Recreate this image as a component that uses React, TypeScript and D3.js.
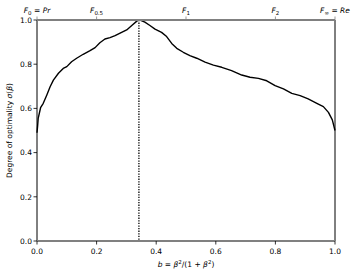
import React from "react";
import * as d3 from "d3";

// degree of optimality curve
const bValues = [0, 0.002, 0.004, 0.012, 0.021, 0.033, 0.044, 0.055, 0.072, 0.088, 0.1, 0.116, 0.133, 0.155, 0.178, 0.195, 0.211, 0.228, 0.245, 0.262, 0.284, 0.301, 0.318, 0.335, 0.342, 0.346, 0.362, 0.379, 0.396, 0.418, 0.435, 0.452, 0.469, 0.491, 0.513, 0.536, 0.564, 0.592, 0.62, 0.653, 0.687, 0.715, 0.743, 0.771, 0.799, 0.827, 0.855, 0.883, 0.91, 0.939, 0.961, 0.978, 0.991, 1.0];
const sigmaValues = [0.49, 0.52, 0.555, 0.603, 0.623, 0.661, 0.698, 0.728, 0.759, 0.781, 0.789, 0.811, 0.827, 0.845, 0.861, 0.875, 0.897, 0.914, 0.92, 0.929, 0.944, 0.955, 0.975, 0.995, 1.0, 1.0, 0.99, 0.975, 0.959, 0.944, 0.925, 0.894, 0.872, 0.854, 0.839, 0.827, 0.809, 0.796, 0.786, 0.771, 0.751, 0.741, 0.736, 0.725, 0.703, 0.688, 0.668, 0.658, 0.643, 0.623, 0.608, 0.582, 0.548, 0.5];
const peakB = 0.342;

const xTicks = [0, 0.2, 0.4, 0.6, 0.8, 1.0];
const yTicks = [0, 0.2, 0.4, 0.6, 0.8, 1.0];
// top axis: F-beta positions b = beta^2/(1+beta^2)
const topTickPos = [0, 0.2, 0.5, 0.8, 1.0];
const topTickSub = ["0", "0.5", "1", "2", "\u221e"];
const topTickSuffix = ["Pr", "", "", "", "Re"];

const W = 357, H = 276;
const margin = { left: 37, right: 22, top: 20, bottom: 35 };
const font = "DejaVu Sans, sans-serif";

export default function App() {
  const x = d3.scaleLinear().domain([0, 1]).range([margin.left, W - margin.right]);
  const y = d3.scaleLinear().domain([0, 1]).range([H - margin.bottom, margin.top]);
  const pts: [number, number][] = bValues.map((b, i) => [b, sigmaValues[i]]);
  const line = d3.line<[number, number]>().x(d => x(d[0])).y(d => y(d[1]));
  const fmt = d3.format(".1f");
  const x0 = x(0), x1 = x(1), y0 = y(0), y1 = y(1);

  return (
    <svg width={W} height={H} style={{ position: "absolute", left: 0, top: 0 }}
      fontFamily={font}>
      <rect width={W} height={H} fill="#fff" />
      {/* dotted line at optimum */}
      <line x1={x(peakB)} x2={x(peakB)} y1={y(1)} y2={y0} stroke="#000" strokeWidth={1.3} strokeDasharray="1.3,1.3" />
      <path d={line(pts) || ""} fill="none" stroke="#000" strokeWidth={1.4} strokeLinejoin="round" />

      {/* spines */}
      <line x1={x0} x2={x0} y1={y1} y2={y0} stroke="#000" strokeWidth={1} />
      <line x1={x1} x2={x1} y1={y1} y2={y0} stroke="#000" strokeWidth={1} />
      <line x1={x0} x2={x1} y1={y1} y2={y1} stroke="#808080" strokeWidth={1.8} />
      <line x1={x0} x2={x1} y1={y0} y2={y0} stroke="#808080" strokeWidth={1.8} />

      {/* y axis */}
      {yTicks.map(t => (
        <g key={"y" + t}>
          <line x1={x0 - 3.5} x2={x0} y1={y(t)} y2={y(t)} stroke="#000" strokeWidth={0.8} />
          <text x={x0 - 5} y={y(t) + 2.8} fontSize={7.5} textAnchor="end">{fmt(t)}</text>
        </g>
      ))}
      {/* x axis */}
      {xTicks.map(t => (
        <g key={"x" + t}>
          <line x1={x(t)} x2={x(t)} y1={y0} y2={y0 + 3.5} stroke="#000" strokeWidth={0.8} />
          <text x={x(t)} y={y0 + 13} fontSize={7.5} textAnchor="middle">{fmt(t)}</text>
        </g>
      ))}
      {/* top axis */}
      {topTickPos.map((t, i) => (
        <g key={"t" + i}>
          <line x1={x(t)} x2={x(t)} y1={y1} y2={y1 - 3.5} stroke="#808080" strokeWidth={0.8} />
          <text x={x(t)} y={y1 - 7} fontSize={7.5} textAnchor="middle">
            <tspan fontStyle="italic">F</tspan>
            <tspan fontSize={5.5} dy={1.5}>{topTickSub[i]}</tspan>
            {topTickSuffix[i] && (
              <>
                <tspan dy={-1.5}> = </tspan>
                <tspan fontStyle="italic">{topTickSuffix[i]}</tspan>
              </>
            )}
          </text>
        </g>
      ))}

      {/* axis labels */}
      <text x={(x0 + x1) / 2} y={H - 9} fontSize={7.5} textAnchor="middle">
        <tspan fontStyle="italic">b</tspan> = <tspan fontStyle="italic">β</tspan>
        <tspan fontSize={5.5} dy={-3}>2</tspan>
        <tspan dy={3}>/(1 + </tspan><tspan fontStyle="italic">β</tspan>
        <tspan fontSize={5.5} dy={-3}>2</tspan><tspan dy={3}>)</tspan>
      </text>
      <text transform={`translate(12,${(y0 + y1) / 2}) rotate(-90)`} fontSize={7.5} textAnchor="middle">
        Degree of optimality <tspan fontStyle="italic">σ</tspan>(<tspan fontStyle="italic">β</tspan>)
      </text>
    </svg>
  );
}
